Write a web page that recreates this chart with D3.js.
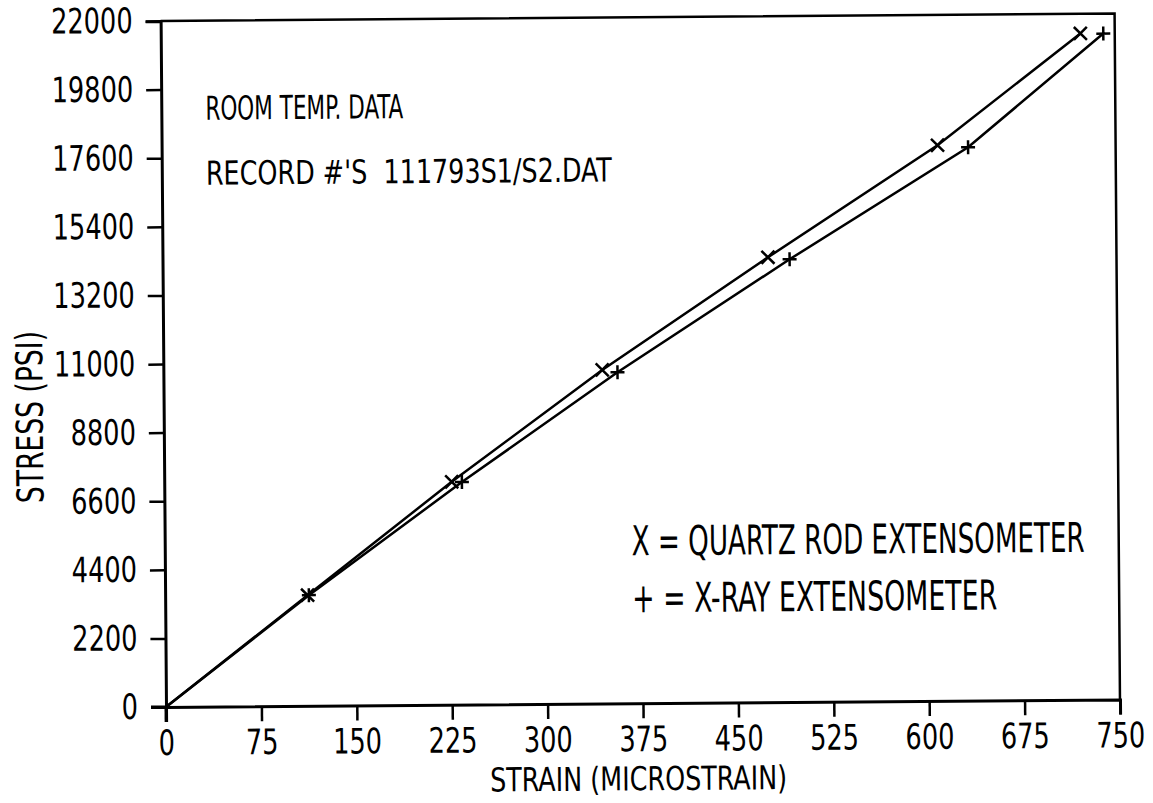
<!DOCTYPE html>
<html>
<head>
<meta charset="utf-8">
<script src="https://cdn.jsdelivr.net/npm/d3@7"></script>
<style>
  html, body { margin: 0; padding: 0; background: #fff; }
  svg text { font-family: "Liberation Sans Narrow", "DejaVu Sans Condensed", "Liberation Sans", sans-serif; fill: #000; }
</style>
</head>
<body>
<svg id="chart" width="1153" height="803"></svg>
<script>
// ---- data ----
const quartzStrain = [0, 112, 226, 345, 476, 610, 723];
const quartzStress = [0, 3550, 7150, 10700, 14270, 17820, 21370];
const xrayStrain   = [0, 113, 234, 357, 493, 634, 741];
const xrayStress   = [0, 3550, 7140, 10620, 14200, 17750, 21360];
const xTicks = [0, 75, 150, 225, 300, 375, 450, 525, 600, 675, 750];
const yTicks = [0, 2200, 4400, 6600, 8800, 11000, 13200, 15400, 17600, 19800, 22000];
const annotations = ["ROOM TEMP. DATA", "RECORD #'S  111793S1/S2.DAT"];
const legendLabels = ["X = QUARTZ ROD EXTENSOMETER", "+ = X-RAY EXTENSOMETER"];
const xTitle = "STRAIN (MICROSTRAIN)";
const yTitle = "STRESS (PSI)";

const L = 166, R = 1120, T = 21, B = 707;
const svg = d3.select("#chart");
const g = svg.append("g").attr("transform", `rotate(-0.45, ${L}, ${B})`);

const x = d3.scaleLinear().domain([0, 750]).range([L, R]);
const y = d3.scaleLinear().domain([0, 22000]).range([B, T]);

// frame (top and right)
g.append("path")
  .attr("d", `M${L},${T} H${R} V${B}`)
  .attr("fill", "none").attr("stroke", "#000").attr("stroke-width", 2.5);

// axes
const yAxis = g.append("g").attr("transform", `translate(${L},0)`)
  .call(d3.axisLeft(y).tickValues(yTicks).tickSize(15).tickPadding(13).tickFormat(d3.format("d")));
const xAxis = g.append("g").attr("transform", `translate(0,${B})`)
  .call(d3.axisBottom(x).tickValues(xTicks).tickSize(15).tickPadding(8).tickFormat(d3.format("d")));
[xAxis, yAxis].forEach(a => {
  a.select(".domain").attr("stroke", "#000").attr("stroke-width", 3);
  a.selectAll(".tick line").attr("stroke", "#000").attr("stroke-width", 2.5);
  a.selectAll(".tick text").attr("font-size", 35).attr("font-family", null)
    .attr("lengthAdjust", "spacingAndGlyphs")
    .attr("textLength", function () { return this.textContent.length * 16.3; });
});
// extend axis lines through the corner
g.append("line").attr("x1", L - 15).attr("x2", L).attr("y1", B).attr("y2", B).attr("stroke", "#000").attr("stroke-width", 3);
g.append("line").attr("x1", L).attr("x2", L).attr("y1", B).attr("y2", B + 15).attr("stroke", "#000").attr("stroke-width", 3);

// series
const quartz = quartzStrain.map((v, i) => [v, quartzStress[i]]);
const xray = xrayStrain.map((v, i) => [v, xrayStress[i]]);
const line = d3.line().x(d => x(d[0])).y(d => y(d[1]));
[quartz, xray].forEach(s => {
  g.append("path").datum(s).attr("d", line)
    .attr("fill", "none").attr("stroke", "#000").attr("stroke-width", 2.5);
});
const m = 6.5;
g.append("g").selectAll("path").data(quartz.slice(1)).join("path")
  .attr("d", d => `M${x(d[0]) - m},${y(d[1]) - m}L${x(d[0]) + m},${y(d[1]) + m}M${x(d[0]) - m},${y(d[1]) + m}L${x(d[0]) + m},${y(d[1]) - m}`)
  .attr("stroke", "#000").attr("stroke-width", 2.5).attr("fill", "none");
g.append("g").selectAll("path").data(xray.slice(1)).join("path")
  .attr("d", d => `M${x(d[0]) - 7},${y(d[1])}H${x(d[0]) + 7}M${x(d[0])},${y(d[1]) - 7}V${y(d[1]) + 7}`)
  .attr("stroke", "#000").attr("stroke-width", 2.5).attr("fill", "none");

// titles
g.append("text").attr("x", 638).attr("y", 794).attr("text-anchor", "middle")
  .attr("font-size", 33).attr("textLength", 297).attr("lengthAdjust", "spacingAndGlyphs").text(xTitle);
g.append("text").attr("transform", "translate(45,416) rotate(-90)").attr("text-anchor", "middle")
  .attr("font-size", 37).attr("textLength", 172).attr("lengthAdjust", "spacingAndGlyphs").text(yTitle);

// annotations
const annY = [120, 185], annW = [198, 406];
annotations.forEach((t, i) => {
  g.append("text").attr("x", 210).attr("y", annY[i]).attr("font-size", 33)
    .attr("textLength", annW[i]).attr("lengthAdjust", "spacingAndGlyphs")
    .style("white-space", "pre").text(t);
});
const legY = [559, 616], legW = [453, 365];
legendLabels.forEach((t, i) => {
  g.append("text").attr("x", 633).attr("y", legY[i]).attr("font-size", 41)
    .attr("textLength", legW[i]).attr("lengthAdjust", "spacingAndGlyphs").text(t);
});
</script>
</body>
</html>
